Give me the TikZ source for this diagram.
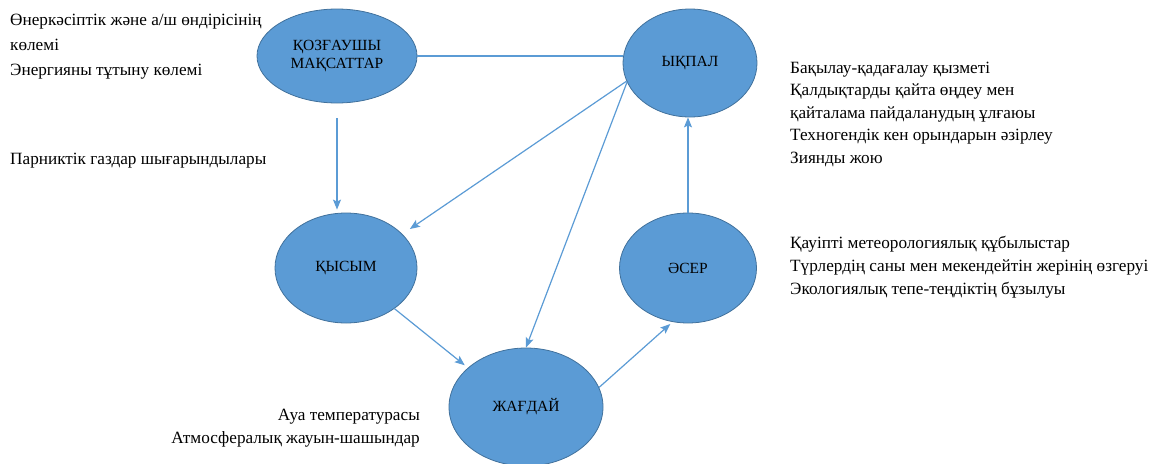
\documentclass[tikz,border=0pt]{standalone}
\usepackage{fontspec}
\setmainfont{Liberation Serif}
\usetikzlibrary{shapes.geometric,arrows.meta,calc}
\definecolor{stagefill}{HTML}{5B9BD5}
\definecolor{stageedge}{HTML}{41719C}
\definecolor{linkblue}{HTML}{5B9BD5}
\begin{document}
\begin{tikzpicture}[x=1pt,y=-1pt,
  stage/.style={ellipse, draw=stageedge, fill=stagefill, line width=0.8pt,
    inner sep=0pt, align=center, font=\fontsize{15.5}{17.5}\selectfont},
  plainlink/.style={draw=linkblue, line width=1.2pt},
  link/.style={plainlink, -{Stealth[length=10pt,width=8pt,inset=2pt]}},
  note/.style={inner sep=0pt, align=left, anchor=base west,
    font=\fontsize{17.2}{22.4}\selectfont},
  noteright/.style={note, align=right, anchor=base east}]
\useasboundingbox (0,0) rectangle (1153,463);

% the five stages
\node[stage, minimum width=160pt, minimum height=94pt] (drive) at (337,56) {ҚОЗҒАУШЫ\\МАҚСАТТАР};
\node[stage, minimum width=134pt, minimum height=108pt] (impact) at (690,63) {ЫҚПАЛ};
\node[stage, minimum width=142pt, minimum height=110pt] (press) at (346,268) {ҚЫСЫМ};
\node[stage, minimum width=137pt, minimum height=110pt] (effect) at (688,268) {ӘСЕР};
\node[stage, minimum width=154pt, minimum height=118pt] (state) at (526,407) {ЖАҒДАЙ};

% connectors (some tips stop a little outside the target ellipse)
\draw[plainlink] (drive.east) -- (drive.east -| impact.west);
\draw[link, shorten <=15pt, shorten >=3pt] (drive.south) -- (drive.south |- press.north);
\draw[link] (impact.196) -- ($(press.31)!9pt!(impact.196)$);
\draw[link] (impact.197) -- (state.north);
\draw[link] (press.320) -- ($(state.146)!4pt!(press.320)$);
\draw[link] (state.15) -- ($(effect.254)!3pt!(state.15)$);
\draw[link] (effect.north) -- (effect.north |- impact.south);

% notes beside the stages (placed by the baseline of their last line)
\node[note] (drivenote) at (10,75) {Өнеркәсіптік және а/ш өндірісінің\\[2.6pt]көлемі\\[2.6pt]Энергияны тұтыну көлемі};
\node[note] (pressnote) at (10,164) {Парниктік газдар шығарындылары};
\node[note] (impactnote) at (790,163) {Бақылау-қадағалау қызметі\\Қалдықтарды қайта өңдеу мен\\қайталама пайдаланудың ұлғаюы\\Техногендік кен орындарын әзірлеу\\Зиянды жою};
\node[note] (effectnote) at (790,294) {Қауіпті метеорологиялық құбылыстар\\[0.6pt]Түрлердің саны мен мекендейтін жерінің өзгеруі\\[0.6pt]Экологиялық тепе-теңдіктің бұзылуы};
\node[noteright] (statenote) at (420,443) {Ауа температурасы\\Атмосфералық жауын-шашындар};
\end{tikzpicture}
\end{document}
